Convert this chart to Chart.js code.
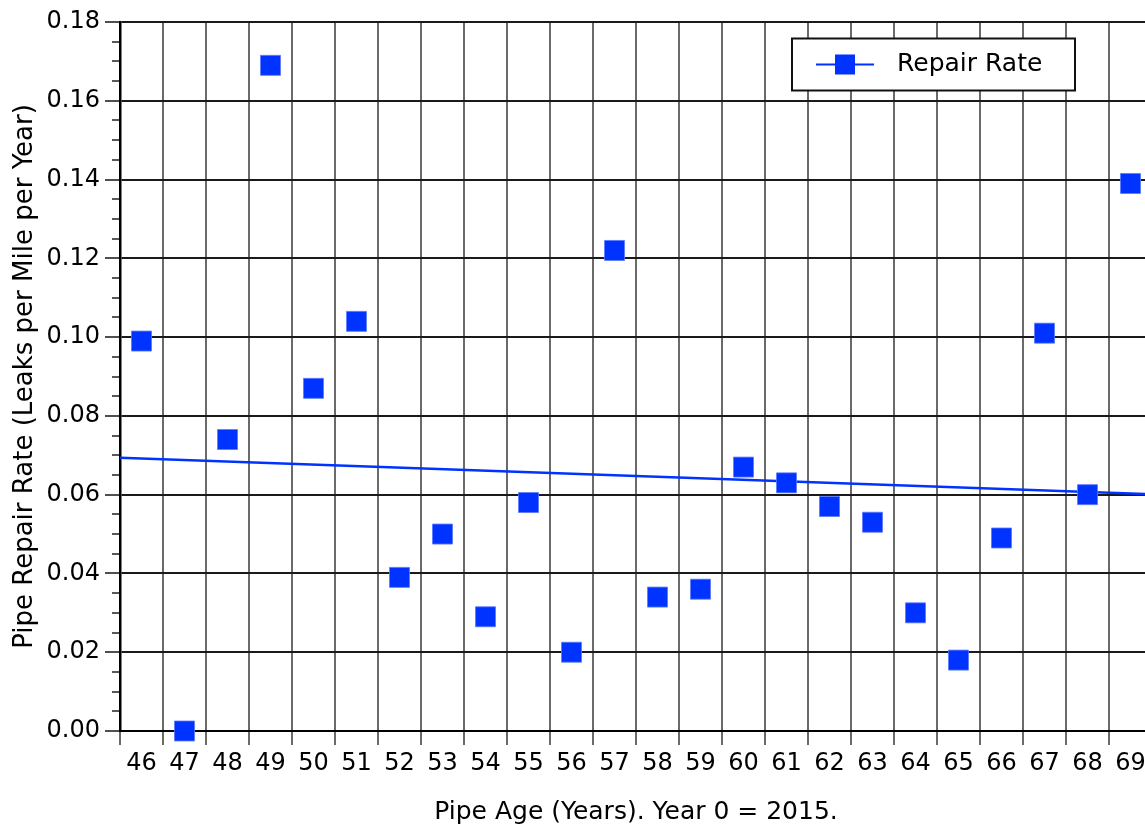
<!DOCTYPE html>
<html>
<head>
<meta charset="utf-8">
<title>Pipe Repair Rate by Pipe Age</title>
<script src="https://cdn.jsdelivr.net/npm/chart.js@4/dist/chart.umd.min.js"></script>
<style>
  html, body { margin: 0; padding: 0; background: #ffffff; overflow: hidden; }
  #wrap { position: absolute; left: 0; top: 0; width: 1160px; height: 828px; }
  #chart { display: block; }
</style>
</head>
<body>
<div id="wrap"><canvas id="chart" width="1160" height="828"></canvas></div>
<script>
// Pipe age categories (years, year 0 = 2015)
const pipeAges = [46, 47, 48, 49, 50, 51, 52, 53, 54, 55, 56, 57,
                  58, 59, 60, 61, 62, 63, 64, 65, 66, 67, 68, 69];

// Repair rate, leaks per mile per year
const repairRates = [0.099, 0.000, 0.074, 0.169, 0.087, 0.104, 0.039, 0.050,
                     0.029, 0.058, 0.020, 0.122, 0.034, 0.036, 0.067, 0.063,
                     0.057, 0.053, 0.030, 0.018, 0.049, 0.101, 0.060, 0.139];

// Linear trend line end points (age, rate)
const trendAges = [45.5, 69.5];
const trendRates = [0.0694, 0.0601];

// Y axis range and tick spacing
const yMin = 0, yMax = 0.18, yMajorStep = 0.02, yMinorStep = 0.005;

const seriesLabel = 'Repair Rate';
const blue = '#0033ff';
const FONT = 'DejaVu Sans';

Chart.defaults.font.family = FONT;
Chart.defaults.color = '#000';

const isMajor = v => Math.abs(v / yMajorStep - Math.round(v / yMajorStep)) < 1e-6;

// Boxed legend sitting inside the plot area, upper right
const boxedLegend = {
  id: 'boxedLegend',
  afterDraw(chart) {
    const ctx = chart.ctx;
    const ds = chart.data.datasets[0];
    const x0 = 792, y0 = 38.5, w = 283, h = 52;
    ctx.save();
    ctx.fillStyle = '#ffffff';
    ctx.fillRect(x0, y0, w, h);
    ctx.lineWidth = 2;
    ctx.strokeStyle = '#111';
    ctx.strokeRect(x0, y0, w, h);
    const cy = y0 + 26;
    ctx.strokeStyle = ds.borderColor;
    ctx.lineWidth = 2;
    ctx.beginPath();
    ctx.moveTo(816, cy);
    ctx.lineTo(874, cy);
    ctx.stroke();
    ctx.fillStyle = ds.backgroundColor;
    Chart.helpers.drawPoint(ctx, {
      pointStyle: 'rect', radius: ds.pointRadius, rotation: 0, borderWidth: 0
    }, 845, cy);
    ctx.fillStyle = '#000';
    ctx.font = '25px "' + FONT + '"';
    ctx.textBaseline = 'alphabetic';
    ctx.textAlign = 'left';
    ctx.fillText(ds.label, 897, cy + 6);
    ctx.restore();
  }
};

new Chart(document.getElementById('chart'), {
  type: 'line',
  data: {
    labels: pipeAges,
    datasets: [
      {
        label: seriesLabel,
        data: repairRates,
        showLine: false,
        pointStyle: 'rect',
        pointRadius: 14.14,
        pointHoverRadius: 14.14,
        backgroundColor: blue,
        borderColor: blue,
        pointBorderColor: 'rgba(90,120,255,0.8)',
        pointBorderWidth: 1,
        clip: false,
        order: 0,
        xAxisID: 'x',
        yAxisID: 'y'
      },
      {
        label: 'Trend',
        data: trendAges.map((a, i) => ({ x: a, y: trendRates[i] })),
        borderColor: blue,
        borderWidth: 2.5,
        pointRadius: 0,
        fill: false,
        order: 1,
        xAxisID: 'xt',
        yAxisID: 'y'
      }
    ]
  },
  options: {
    responsive: false,
    animation: false,
    devicePixelRatio: 1,
    layout: {
      autoPadding: false,
      padding: { top: 22, right: 8, left: 0, bottom: 0 }
    },
    plugins: {
      legend: { display: false },
      tooltip: { enabled: false }
    },
    scales: {
      x: {
        type: 'category',
        offset: true,
        grid: {
          offset: true,
          color: '#6a6a6a',
          lineWidth: 2,
          tickLength: 14,
          tickColor: '#6a6a6a',
          tickWidth: 2
        },
        border: { color: '#000', width: 2 },
        ticks: {
          autoSkip: false,
          maxRotation: 0,
          padding: 4,
          color: '#000',
          font: { size: 24 }
        },
        title: {
          display: true,
          text: 'Pipe Age (Years). Year 0 = 2015.',
          color: '#000',
          font: { size: 25 },
          padding: { top: 0, bottom: 1 }
        },
        afterFit(scale) {
          scale.height = 97;
          scale.paddingLeft = 0;
          scale.paddingRight = 0;
        }
      },
      xt: {
        type: 'linear',
        display: false,
        min: trendAges[0],
        max: trendAges[trendAges.length - 1],
        ticks: { display: false }
      },
      y: {
        type: 'linear',
        min: yMin,
        max: yMax,
        grid: {
          color: c => (c.tick && isMajor(c.tick.value)) ? '#1a1a1a' : 'rgba(0,0,0,0)',
          lineWidth: 2,
          tickLength: 15,
          tickColor: '#222',
          tickWidth: 1.6,
          tickBorderDash: c => (c.tick && isMajor(c.tick.value)) ? [] : [0, 7, 8, 40]
        },
        border: { color: '#000', width: 2.5 },
        ticks: {
          stepSize: yMinorStep,
          maxTicksLimit: 100,
          autoSkip: false,
          padding: 5,
          color: '#000',
          font: { size: 24 },
          callback: v => isMajor(v) ? v.toFixed(2) : ''
        },
        title: {
          display: true,
          text: 'Pipe Repair Rate (Leaks per Mile per Year)',
          color: '#000',
          font: { size: 26 },
          padding: { top: 10, bottom: 0 }
        },
        afterFit(scale) { scale.width = 120; }
      }
    }
  },
  plugins: [boxedLegend]
});
</script>
</body>
</html>
